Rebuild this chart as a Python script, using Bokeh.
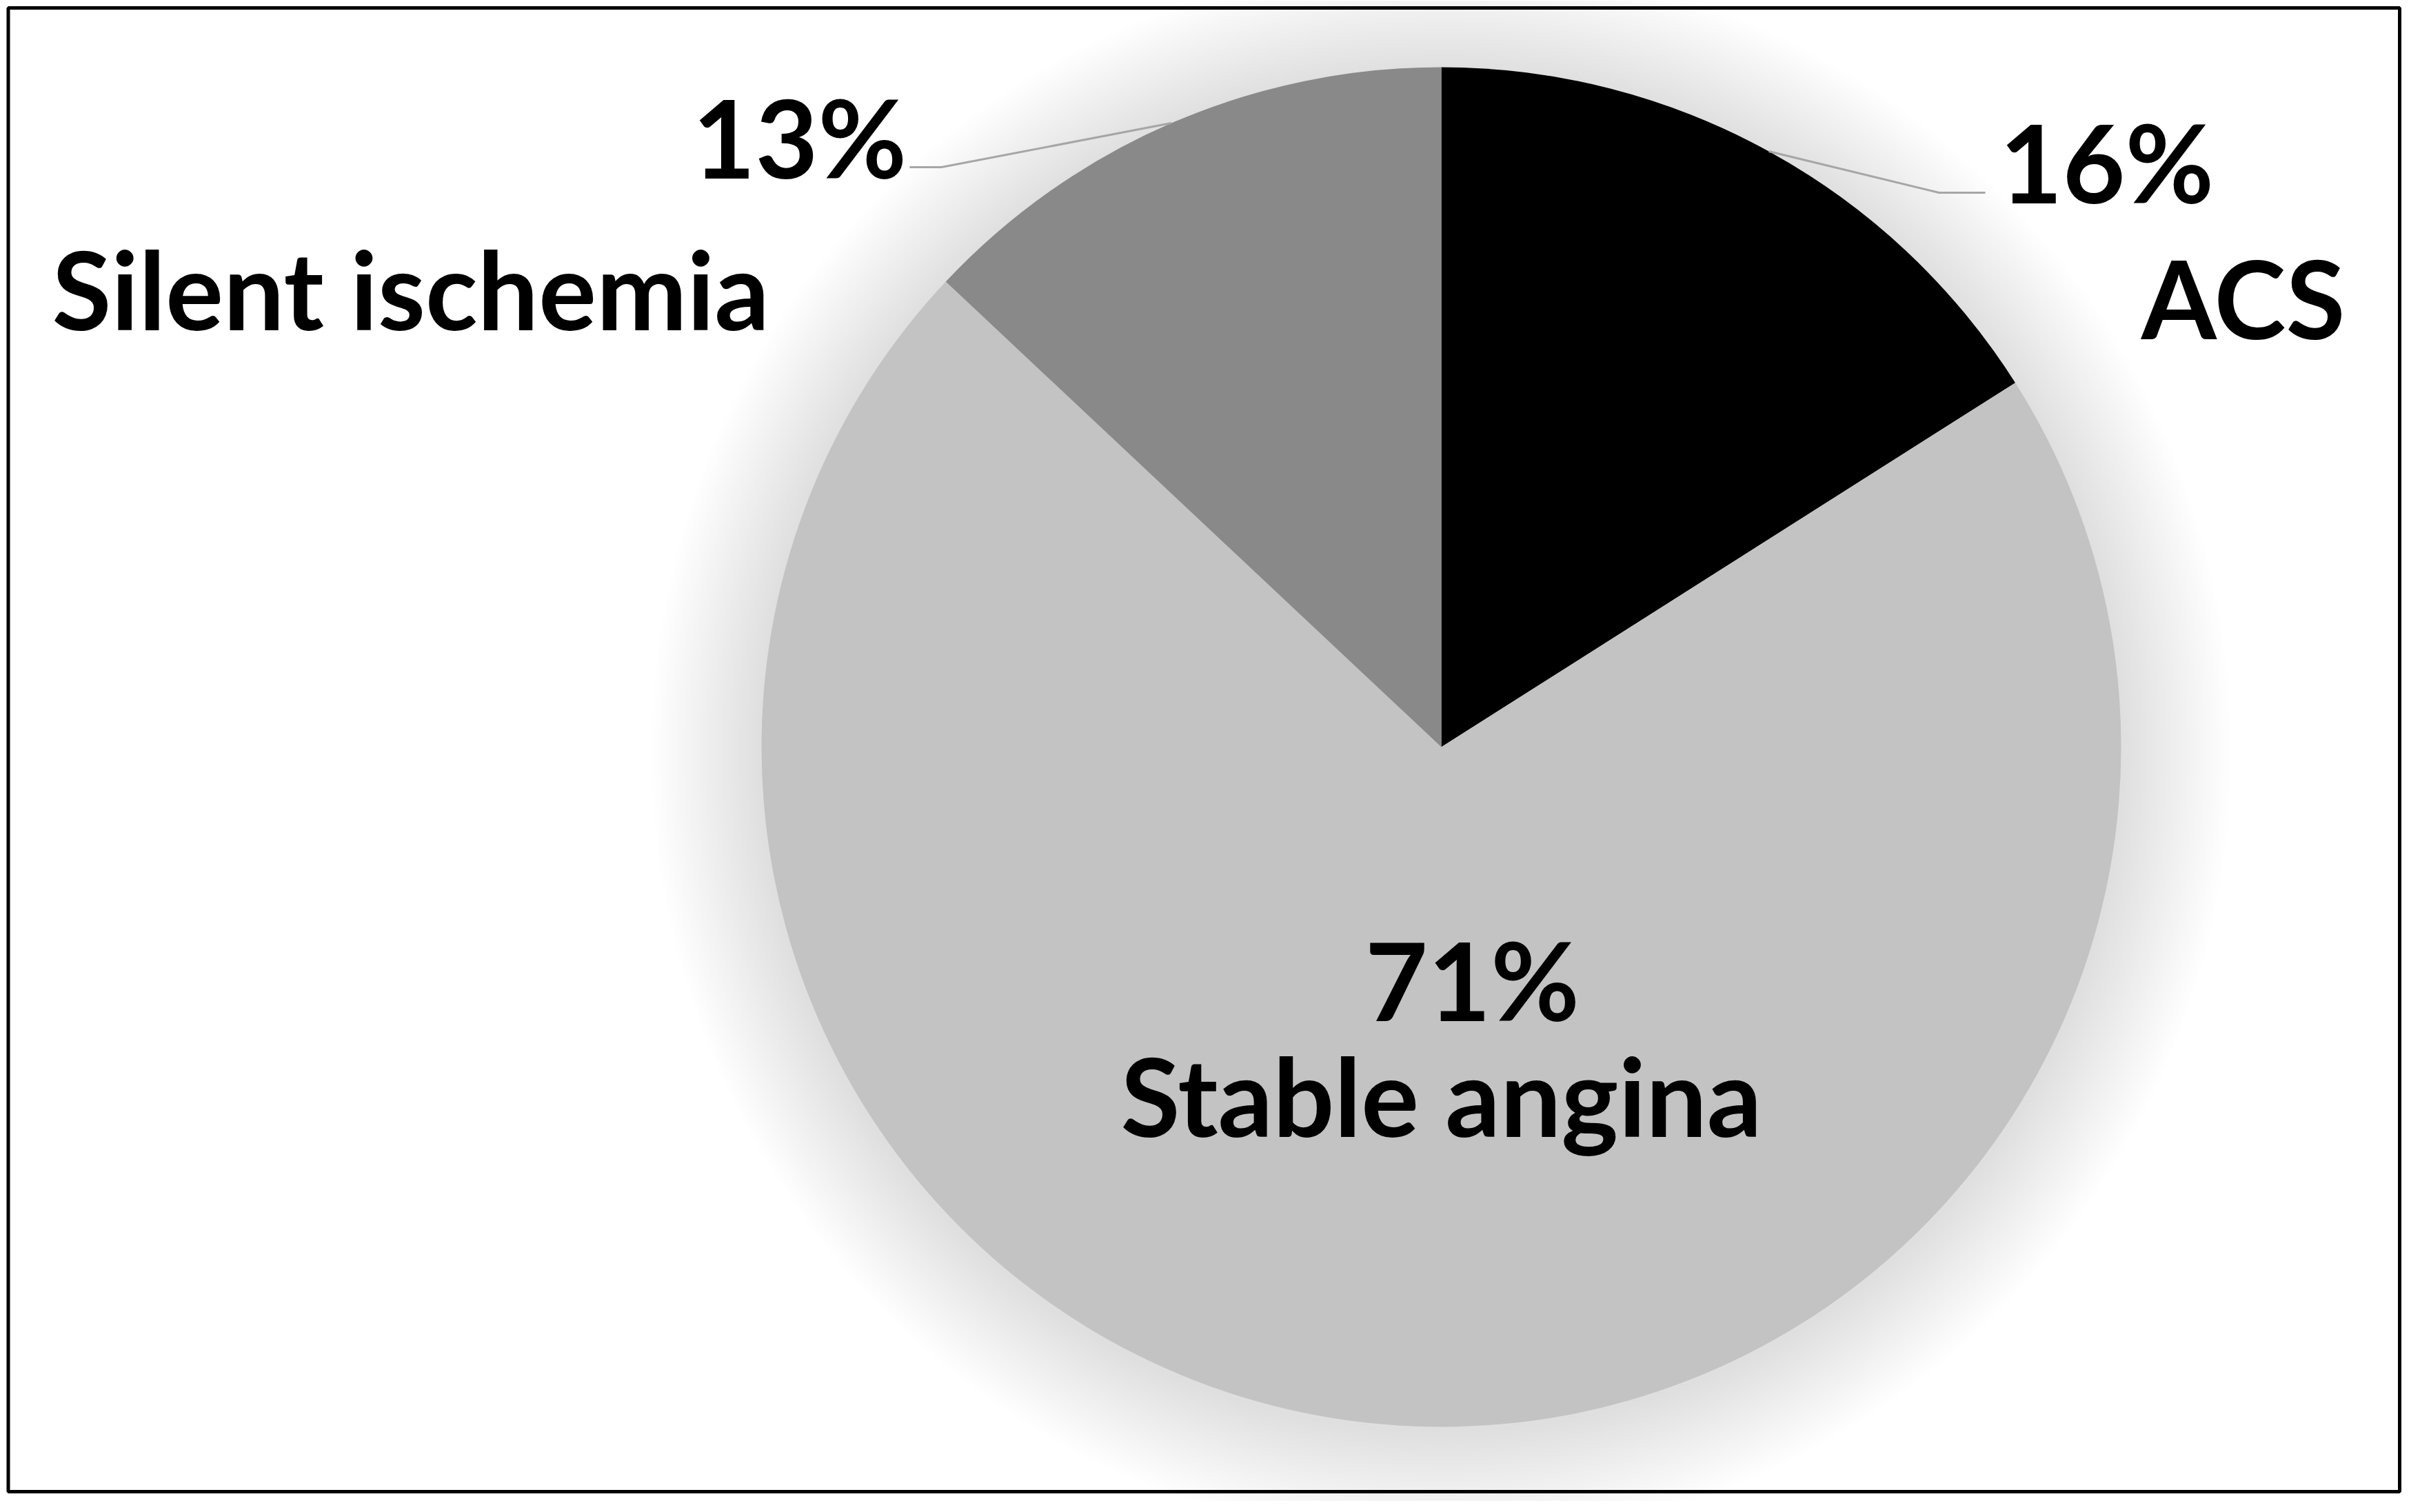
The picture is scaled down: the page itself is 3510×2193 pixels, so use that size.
import math
from bokeh.plotting import figure
from bokeh.models import ColumnDataSource
from bokeh.core.properties import value
from bokeh.embed import file_html
from bokeh.resources import INLINE

# ---- data ----
categories = ["ACS", "Stable angina", "Silent ischemia"]
percents = [16, 71, 13]
colors = ["#000000", "#c3c3c3", "#898989"]
pct_labels = ["16%", "71%", "13%"]

# ---- layout ----
W, H = 3494, 2177
cx, cy, R = 2090, 1094, 986
FONT = "Lato"
FS = "157px"
DY = 50  # baseline correction

p = figure(width=W, height=H, x_range=(0, W), y_range=(0, H),
           output_backend="svg", toolbar_location=None, min_border=0)
p.axis.visible = False
p.grid.visible = False
p.outline_line_color = None
p.background_fill_color = "white"
p.border_fill_color = "white"

# soft shadow around pie
n_sh = 32
sh_r = [R + 5 * k for k in range(1, n_sh + 1)]
p.circle(x=[cx] * n_sh, y=[cy - 6] * n_sh, radius=sh_r, fill_color="black",
         fill_alpha=0.003, line_color=None)

# wedges clockwise from 12 o'clock
total = sum(percents)
starts, ends, mids = [], [], []
a = math.pi / 2
for v in percents:
    da = 2 * math.pi * v / total
    starts.append(a)
    ends.append(a - da)
    mids.append(a - da / 2)
    a -= da
src = ColumnDataSource(dict(start=starts, end=ends, color=colors, cat=categories))
p.wedge(x=cx, y=cy, radius=R, start_angle="start", end_angle="end",
        direction="clock", fill_color="color", line_color=None, source=src)

# leader lines (anchored at slice mid-angles)
def anchor(i):
    return cx + R * math.cos(mids[i]), cy + R * math.sin(mids[i])

ax0, ay0 = anchor(0)
p.line(x=[ax0, 2812, 2879], y=[ay0, 1898, 1898], line_color="#a6a6a6", line_width=3)
ax2, ay2 = anchor(2)
p.line(x=[ax2, 1365, 1319], y=[ay2, 1935, 1935], line_color="#a6a6a6", line_width=3)

# labels
def txt(x, y, t, align):
    p.text(x=[x], y=[y + DY], text=[t], text_font=value(FONT), text_font_style="bold",
           text_font_size=FS, text_color="black", text_align=align,
           text_baseline="alphabetic")

txt(2900, 1894, pct_labels[0], "left")
txt(3401, 1697, categories[0], "right")
txt(2135, 708, pct_labels[1], "center")
txt(2090, 540, categories[1], "center")
txt(1004, 1930, pct_labels[2], "left")
txt(75, 1710, categories[2], "left")

# frame border
p.quad(left=[11.5], right=[3480], bottom=[14], top=[2166], fill_color=None,
       line_color="black", line_width=5)

open("out.html", "w").write(file_html(p, INLINE))
